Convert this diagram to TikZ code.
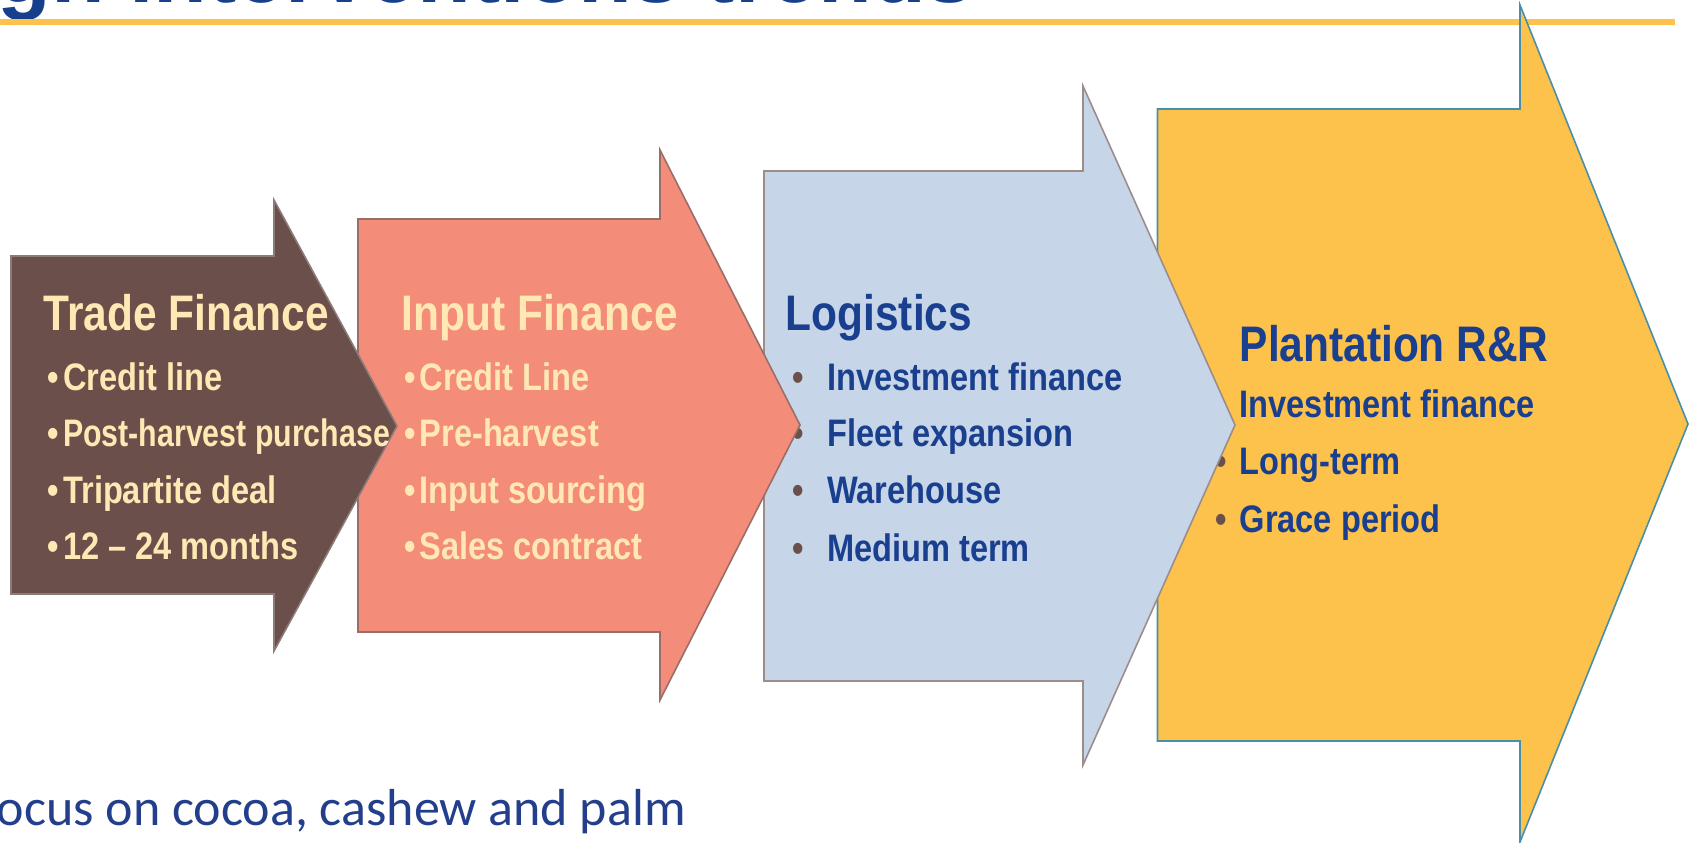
\documentclass[tikz,border=0pt]{standalone}
\usepackage{graphicx}
\usepackage{fontspec}
\setmainfont{Liberation Sans}
\newfontfamily\nar[FakeStretch=0.85]{Liberation Sans}
\newfontfamily\carl{Carlito}
\definecolor{brownfill}{HTML}{6B4F4A}
\definecolor{brownline}{HTML}{8C7B78}
\definecolor{salmonfill}{HTML}{F48C7A}
\definecolor{salmonline}{HTML}{9A6E68}
\definecolor{bluefill}{HTML}{C6D5E8}
\definecolor{blueline}{HTML}{9C8C8A}
\definecolor{goldfill}{HTML}{FCC24C}
\definecolor{goldline}{HTML}{4A8FA8}
\definecolor{cream}{HTML}{FFE8B4}
\definecolor{navy}{HTML}{1A3F8F}
\definecolor{titleblue}{HTML}{17408C}
\definecolor{footblue}{HTML}{233F8C}
\definecolor{bulletbrown}{HTML}{6B4F4A}
\tikzset{
  shaft/.style={line width=0.45pt, line join=miter},
  headtext/.style={anchor=base west, inner sep=0pt, font=\nar\bfseries\fontsize{14.2pt}{17pt}\selectfont},
  itemtext/.style={anchor=base west, inner sep=0pt, font=\nar\bfseries\fontsize{10.9pt}{13pt}\selectfont},
}
\begin{document}
\begin{tikzpicture}[x=0.01cm,y=-0.01cm]
\useasboundingbox (0,0) rectangle (1694,843);
\clip (0,0) rectangle (1694,843);

% title (cut off at top) and rule
\node[anchor=base west, inner sep=0pt, text=titleblue, font=\bfseries\fontsize{25pt}{30pt}\selectfont] (title) at (-3,2.5) {gh interventions trends};
\fill[goldfill] (0,19) rectangle (1675,25);

% Plantation (yellow)
\filldraw[shaft, fill=goldfill, draw=goldline] (1157.5,109) -- (1520,109) -- (1520,5) -- (1688,424) -- (1520,842) -- (1520,741) -- (1157.5,741) -- cycle;
\node[headtext, text=navy] (plh) at (1239,361.5) {Plantation R\&R};
\node[itemtext, text=navy] (pl1) at (1215,417.7) {\makebox[0.24cm][l]{\textcolor{bulletbrown}{•}}Investment finance};
\node[itemtext, text=navy] (pl2) at (1215,474.7) {\makebox[0.24cm][l]{\textcolor{bulletbrown}{•}}Long-term};
\node[itemtext, text=navy] (pl3) at (1215,532.3) {\makebox[0.24cm][l]{\textcolor{bulletbrown}{•}}Grace period};

% Logistics (blue)
\filldraw[shaft, fill=bluefill, draw=blueline] (764,171) -- (1083,171) -- (1083,86) -- (1235,425) -- (1083,765) -- (1083,681) -- (764,681) -- cycle;
\node[headtext, text=navy] (loh) at (785,331) {Logistics};
\node[itemtext, text=navy] (lo1) at (792,390.7) {\makebox[0.345cm][l]{\textcolor{bulletbrown}{•}}Investment finance};
\node[itemtext, text=navy] (lo2) at (792,447) {\makebox[0.345cm][l]{\textcolor{bulletbrown}{•}}Fleet expansion};
\node[itemtext, text=navy] (lo3) at (792,504) {\makebox[0.345cm][l]{\textcolor{bulletbrown}{•}}Warehouse};
\node[itemtext, text=navy] (lo4) at (792,561) {\makebox[0.345cm][l]{\textcolor{bulletbrown}{•}}Medium term};

% Input Finance (salmon)
\filldraw[shaft, fill=salmonfill, draw=salmonline] (358,219) -- (660,219) -- (660,150) -- (800,425) -- (660,700) -- (660,632) -- (358,632) -- cycle;
\node[headtext, text=cream] (inh) at (401,331) {Input Finance};
\node[itemtext, text=cream] (in1) at (403.5,390.7) {\makebox[0.155cm][l]{•}Credit Line};
\node[itemtext, text=cream] (in2) at (403.5,446.8) {\makebox[0.155cm][l]{•}Pre-harvest};
\node[itemtext, text=cream] (in3) at (403.5,503) {\makebox[0.155cm][l]{•}Input sourcing};
\node[itemtext, text=cream] (in4) at (403.5,559.2) {\makebox[0.155cm][l]{•}Sales contract};

% Trade Finance (brown)
\filldraw[shaft, fill=brownfill, draw=brownline] (11,256) -- (274,256) -- (274,200) -- (397,426) -- (274,651) -- (274,594) -- (11,594) -- cycle;
\node[headtext, text=cream] (trh) at (43,331) {Trade Finance};
\node[itemtext, text=cream] (tr1) at (47,390.7) {\makebox[0.155cm][l]{•}Credit line};
\node[itemtext, text=cream] (tr2) at (47,446.8) {\makebox[0.155cm][l]{•}\scalebox{0.93}[1]{Post-harvest purchase}};
\node[itemtext, text=cream] (tr3) at (47,503) {\makebox[0.155cm][l]{•}Tripartite deal};
\node[itemtext, text=cream] (tr4) at (47,559.2) {\makebox[0.155cm][l]{•}12 – 24 months};

% footer text (cut off at left)
\node[anchor=base west, inner sep=0pt, text=footblue, font=\carl\fontsize{14.8pt}{18pt}\selectfont] (foot) at (-4,825.5) {ocus on cocoa, cashew and palm};
\end{tikzpicture}
\end{document}
